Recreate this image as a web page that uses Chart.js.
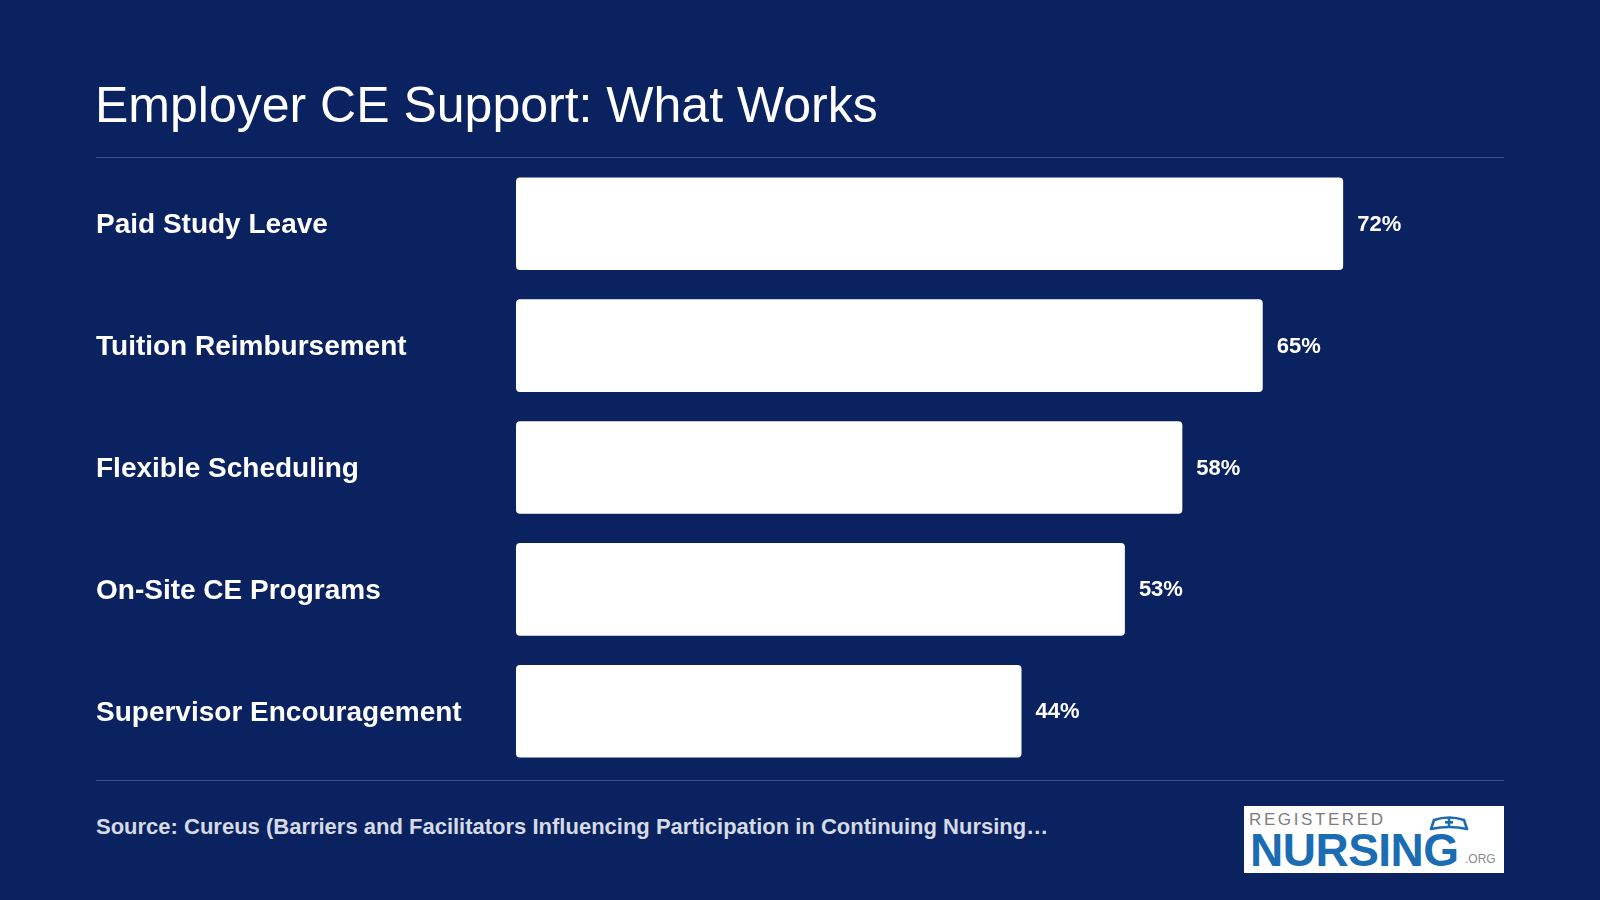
<!DOCTYPE html>
<html>
<head>
<meta charset="utf-8">
<script src="https://cdn.jsdelivr.net/npm/chart.js@4.4.1/dist/chart.umd.min.js"></script>
<style>
    html, body { margin: 0; padding: 0; }
    body {
        width: 1600px; height: 900px; overflow: hidden;
        background: #0b2260;
        font-family: "Liberation Sans", Arial, sans-serif;
        position: relative;
    }
    #title {
        position: absolute; left: 95px; top: 75px;
        color: #ffffff; font-size: 50px; line-height: 60px; white-space: nowrap;
    }
    .rule { position: absolute; left: 96px; width: 1408px; height: 1px; background: #3b5289; }
    #chartBox { position: absolute; left: 96px; top: 146px; width: 1408px; height: 643px; }
    #source {
        position: absolute; left: 96px; top: 814px;
        color: #d6dae4; font-size: 22px; font-weight: bold; white-space: nowrap;
    }
    #logo { position: absolute; left: 1244px; top: 806px; width: 260px; height: 67px; background: #fff; }
    #logo .reg { position: absolute; left: 5px; top: 4px; color: #7d7d7d; font-size: 17px; letter-spacing: 2.6px; }
    #logo .nur { position: absolute; left: 6px; top: 17px; color: #1b6db3; font-size: 46px; font-weight: bold; letter-spacing: -0.5px; }
    #logo .org { position: absolute; left: 221px; top: 46px; color: #8a8a8a; font-size: 12px; }
    #logo svg { position: absolute; left: 184px; top: 10px; }
</style>
</head>
<body>
<div id="title">Employer CE Support: What Works</div>
<div class="rule" style="top:157px"></div>
<div id="chartBox"><canvas id="myChart"></canvas></div>
<div class="rule" style="top:780px"></div>
<div id="source">Source: Cureus (Barriers and Facilitators Influencing Participation in Continuing Nursing…</div>
<div id="logo">
    <span class="reg">REGISTERED</span>
    <span class="nur">NURSING</span>
    <span class="org">.ORG</span>
    <svg width="42" height="15" viewBox="0 0 42 15">
        <path d="M3 13 L6 4 Q21 -1 36 4 L39 13 Q21 9 3 13 Z" fill="#fff" stroke="#1b6db3" stroke-width="2.6" stroke-linejoin="round"/>
        <rect x="17" y="5" width="8" height="2.6" fill="#1b6db3"/>
        <rect x="19.7" y="2.3" width="2.6" height="8" fill="#1b6db3"/>
    </svg>
</div>

<script>
var categories = [
    "Paid Study Leave",
    "Tuition Reimbursement",
    "Flexible Scheduling",
    "On-Site CE Programs",
    "Supervisor Encouragement"
];
var values = [72, 65, 58, 53, 44];

// draws the "72%" labels at the end of each bar
var valueLabels = {
    id: 'valueLabels',
    afterDatasetsDraw: function (chart) {
        var ctx = chart.ctx;
        var meta = chart.getDatasetMeta(0);
        ctx.save();
        ctx.fillStyle = '#ffffff';
        ctx.font = 'bold 22px "Liberation Sans", Arial, sans-serif';
        ctx.textAlign = 'left';
        ctx.textBaseline = 'middle';
        meta.data.forEach(function (bar, i) {
            ctx.fillText(values[i] + '%', bar.x + 14, bar.y + 1);
        });
        ctx.restore();
    }
};

var ctx = document.getElementById("myChart").getContext('2d');
var myChart = new Chart(ctx, {
    type: 'bar',
    data: {
        labels: categories,
        datasets: [{
            data: values,
            backgroundColor: '#ffffff',
            borderRadius: 4,
            borderSkipped: false,
            barPercentage: 0.76,
            categoryPercentage: 1
        }]
    },
    options: {
        indexAxis: 'y',
        responsive: true,
        maintainAspectRatio: false,
        animation: false,
        layout: { padding: 0 },
        plugins: {
            legend: { display: false },
            tooltip: { enabled: false }
        },
        scales: {
            x: {
                display: false,
                min: 0,
                max: 86
            },
            y: {
                grid: { display: false },
                border: { display: false },
                afterFit: function (scale) { scale.width = 420; },
                ticks: {
                    crossAlign: 'far',
                    padding: 0,
                    labelOffset: 2,
                    color: '#ffffff',
                    font: { family: '"Liberation Sans", Arial, sans-serif', size: 28, weight: 'bold' }
                }
            }
        }
    },
    plugins: [valueLabels]
});
</script>
</body>
</html>
